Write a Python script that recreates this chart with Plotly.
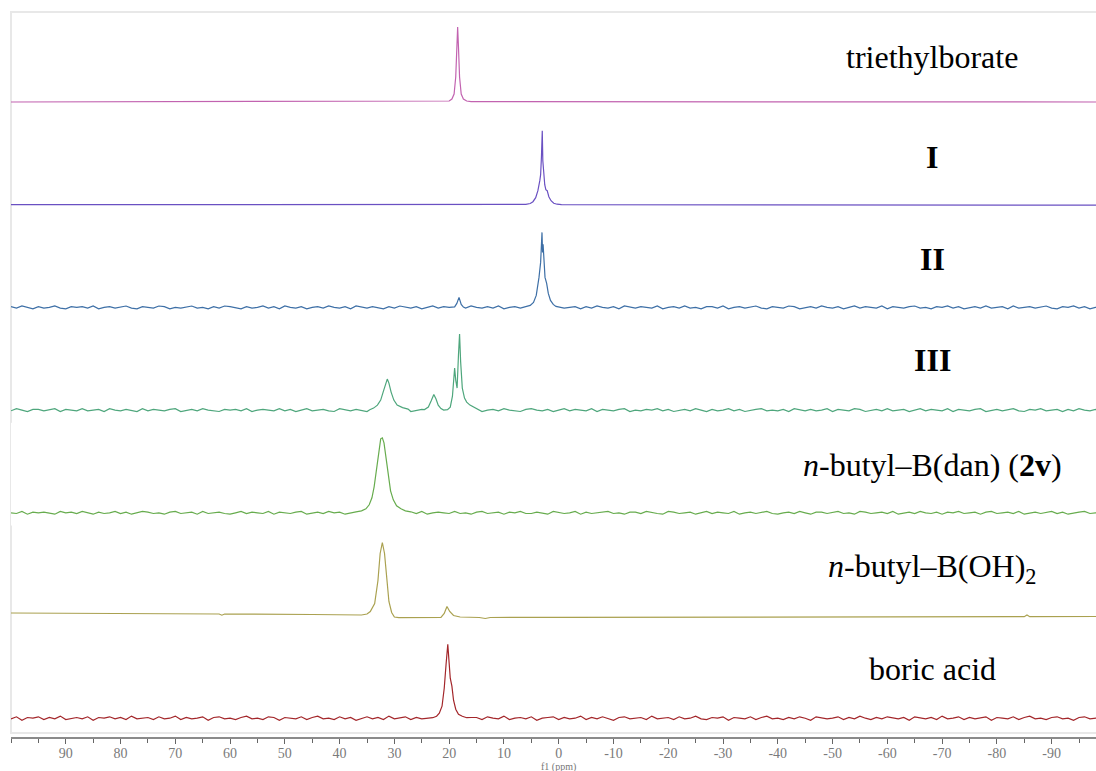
import numpy as np
import plotly.graph_objects as go

# ---------------- data (ppm, intensity above baseline) ----------------
names = ["triethylborate", "<b>I</b>", "<b>II</b>", "<b>III</b>",
         "<i>n</i>-butyl–B(dan) (<b>2v</b>)", "<i>n</i>-butyl–B(OH)<sub>2</sub>", "boric acid"]
colors = ["#C263B0", "#6A50C2", "#3D6FA6", "#4EA67C", "#67AC4E", "#AAA150", "#A3262A"]

tick_vals = [90, 80, 70, 60, 50, 40, 30, 20, 10, 0, -10, -20, -30, -40, -50, -60, -70, -80, -90]
tick_text = ["90", "80", "70", "60", "50", "40", "30", "20", "10", "0", "-10", "-20", "-30",
             "-40", "-50", "-60", "-70", "-80", "-90"]

# triethylborate
teb_ppm = [100, 21, 20, 19.5, 19.1, 18.8, 18.6, 18.45, 18.3, 18.1, 17.8, 17.4, 16.8, 16, -98.1]
teb_int = [0, 0.3, 1, 3, 8, 25, 55, 75, 55, 25, 8, 3, 1, 0.3, 0]

# I
i_ppm = [100, 6.0, 5.2, 4.7, 4.2, 3.8, 3.45, 3.3, 3.15, 3.0, 2.9, 2.75, 2.55, 2.35, 2.1, 1.8,
         1.4, 0.9, 0.3, -0.5, -98.1]
i_int = [0, 0.3, 1.2, 3, 7, 14, 24, 30, 48, 74, 44, 28, 20, 15, 14, 8, 4, 1.5, 0.5, 0, -0.5]

# II
ii_peak_ppm = [[19.0, 18.6, 18.2, 17.8, 17.4],
               [6.0, 5.2, 4.6, 4.1, 3.6, 3.3, 3.05, 2.95, 2.85, 2.7, 2.5, 2.2, 1.9, 1.5, 1.0, 0.5, -0.3]]
ii_peak_int = [[0.5, 4, 10, 3, 0.3],
               [0.5, 2, 5, 12, 30, 45, 75, 55, 63, 40, 30, 24, 14, 7, 3, 1, 0]]

# III
iii_peak_ppm = [[34.5, 33.8, 33.1, 32.5, 32.0, 31.6, 31.3, 31.0, 30.6, 30.1, 29.5, 28.5, 27.5],
                [24.5, 23.8, 23.3, 22.8, 22.4, 22.0, 21.5, 21.0],
                [20.3, 19.8, 19.4, 19.15, 19.0, 18.8, 18.55, 18.3, 18.1, 17.9, 17.6, 17.2, 16.8,
                 16.2, 15.5, 14.8]]
iii_peak_int = [[0.3, 2, 5, 10, 19, 27, 31, 27, 18, 10, 5, 2.5, 1],
                [0.5, 3, 9, 15.5, 11, 5, 1.5, 0],
                [0.5, 3, 14, 33, 42, 30, 22, 55, 76, 48, 22, 12, 8, 5, 3, 1]]

# 2v
v_peak_ppm = [[37, 36, 35.2, 34.6, 34.1, 33.7, 33.3, 32.9, 32.5, 32.2, 31.9, 31.5, 31.1, 30.7,
               30.2, 29.6, 28.8, 28, 27]]
v_peak_int = [[1, 2, 4, 8, 15, 26, 42, 62, 74, 75, 70, 54, 36, 22, 13, 7, 4, 2, 1]]

# n-butyl-B(OH)2
boh_ppm = [100, 80, 62, 61.5, 61, 45, 37, 36, 35, 34.4, 33.6, 33.0, 32.6, 32.2, 31.8, 31.4, 31.0,
           30.5, 30.0, 29.2, 25, 21.5, 20.9, 20.4, 19.9, 19.2, 18.0, 14.5, 13.4, 12.5, 0, -40,
           -85, -85.5, -86, -98.1]
boh_int = [2.5, 2.0, 1.5, 0.3, 1.5, 1.0, 0.5, 0.5, 1.5, 4, 12, 35, 62, 73, 62, 35, 14,
           3, -1.5, -2.2, -2, -1.8, 2, 9, 4, 0, -1.5, -2, -3, -2, -1.8, -1.5,
           -1.2, 0.5, -1.2, -1]

# boric acid
ba_peak_ppm = [[23.0, 22.3, 21.8, 21.3, 20.9, 20.55, 20.25, 20.0, 19.8, 19.5, 19.2, 18.8, 18.3,
                17.6, 16.8]]
ba_peak_int = [[0.5, 2, 5, 12, 30, 55, 74, 55, 40, 32, 18, 9, 4, 2, 0.5]]

# baseline noise, read at 1 ppm steps from 100 to -99 ppm (in noise units)
noise_ppm = list(range(100, -100, -1))
noise_II = [1,-1,2,0,-2,1,-1,0,2,-1, -2,1,0,1,-1,2,-2,0,1,-1,
            0,2,-1,-2,1,0,-1,2,1,-2, 0,-1,1,2,-1,0,-2,1,-1,2,
            1,0,-2,1,-1,0,2,-1,1,-2, 2,0,-1,1,-2,0,1,-1,2,0,
            -1,1,-2,2,0,-1,1,0,-2,1, -1,2,0,-1,1,-2,0,2,-1,1,
            0,-2,1,-1,2,0,-1,1,-1,2, -2,0,1,-1,0,2,-1,1,-2,0,
            2,-1,0,1,-2,1,-1,2,0,-1, 1,-2,2,0,-1,1,0,-1,2,-2,
            0,1,-1,2,-1,0,-2,1,1,-1, 2,-2,0,1,-1,0,2,-1,-2,1,
            0,-1,2,1,-2,0,1,-1,2,0, -1,1,-2,0,2,-1,1,0,-1,2,
            -2,1,0,-1,1,2,-1,0,-2,1, 0,2,-1,1,-2,0,1,-1,2,-1,
            0,1,-2,2,-1,0,1,-1,0,2, -1,-2,1,0,2,-1,1,-2,0,1]
noise_III = [-1,2,0,-2,1,1,-1,0,2,-2, 1,0,-1,2,-1,0,1,-2,2,0,
             -1,1,0,-2,2,-1,1,0,-1,1, 2,-2,0,1,-1,2,0,-1,-2,1,
             0,1,-1,2,-2,0,1,0,-1,2, -1,1,-2,0,2,-1,0,1,-1,-2,
             2,0,-1,1,0,-2,1,2,-1,0, 1,-1,2,-2,0,1,-1,0,2,-1,
             -2,1,0,2,-1,1,-2,0,1,-1, 2,0,-1,-2,1,2,0,-1,1,-2,
             0,2,-1,1,0,-1,2,-2,1,0, -1,1,2,-2,0,-1,1,0,2,-1,
             1,-2,0,1,-1,2,0,-2,1,-1, 0,2,-1,1,-2,0,1,2,-1,0,
             -1,1,-2,2,0,-1,1,-1,0,2, -2,1,0,-1,2,1,-2,0,1,-1,
             2,-1,0,1,-2,0,2,-1,1,0, -1,2,-2,1,0,-1,1,2,-2,0,
             1,-1,0,2,-1,-2,1,0,2,-1, 0,1,-2,1,-1,2,0,-1,1,-2]
noise_2v = [0,-1,2,-2,1,0,1,-1,-2,2, 0,1,-1,2,0,-2,1,-1,0,2,
            -1,1,-2,0,2,1,-1,0,-2,1, 2,-1,0,1,-2,2,-1,0,1,-1,
            -2,0,2,-1,1,0,-1,2,-2,1, 0,-1,1,2,-2,0,1,-1,2,0,
            1,-2,0,-1,2,1,-1,0,1,-2, 2,0,-1,1,-1,2,-2,0,1,0,
            -1,2,-1,0,-2,1,2,-1,0,1, -2,1,0,2,-1,-1,1,0,-2,2,
            1,-1,0,2,-2,1,-1,0,1,2, -1,0,-2,1,1,-1,2,0,-1,-2,
            2,1,-1,0,1,-2,0,2,-1,1, 0,-1,2,-2,0,1,-1,1,2,-1,
            -2,0,1,-1,2,0,-2,1,1,-1, 0,2,-1,0,-2,2,1,-1,0,1,
            -1,2,-2,0,1,-1,2,0,-1,1, -2,1,0,2,-1,0,1,-2,1,2,
            -1,0,1,-1,2,-2,0,1,-1,0, 2,-1,1,-2,0,1,2,-1,0,-1]
noise_boric = [-1,2,-3,1,0,2,-2,1,-1,3, -2,0,1,-1,2,-3,1,0,2,-1,
               1,-2,3,-1,0,1,-2,2,-1,0, 3,-2,1,-1,0,2,-3,1,2,-1,
               0,-2,1,3,-1,0,-2,2,1,-3, 1,0,-1,2,-2,1,3,-1,0,-2,
               2,-1,1,-3,0,2,-1,1,-2,3, -1,0,2,-2,1,-1,0,3,-2,1,
               -1,2,0,-3,1,1,-2,2,0,-1, 3,-2,0,1,-1,2,-3,0,1,2,
               -2,1,-1,0,3,-2,1,-1,2,0, -3,1,2,-1,0,1,-2,3,-1,0,
               1,-2,2,-1,0,3,-1,-2,1,0, 2,-3,1,0,-1,2,-2,1,3,-1,
               0,-2,1,-1,2,0,-3,2,1,-1, 0,2,-2,1,-1,3,0,-2,1,-1,
               2,0,-1,1,-3,2,0,-1,1,-2, 3,-1,0,2,-2,1,-1,0,2,-3,
               1,0,-1,2,-2,1,3,-1,0,-2, 1,2,-1,0,-3,1,2,-1,0,1]
NOISE_UNIT = 0.7   # px per noise unit (units of the y axes are px above baseline)


def assemble(noise, peaks_ppm, peaks_int):
    """Merge baseline noise points (outside the peak windows) with the peak points."""
    pts = []
    for p, v in zip(noise_ppm, noise):
        if not any(min(pp) <= p <= max(pp) for pp in peaks_ppm):
            pts.append((p, v * NOISE_UNIT))
    for pp, pv in zip(peaks_ppm, peaks_int):
        pts.extend(zip(pp, pv))
    pts.sort(key=lambda t: -t[0])
    return [t[0] for t in pts], [t[1] for t in pts]


spectra = [
    (teb_ppm, teb_int),
    (i_ppm, i_int),
    assemble(noise_II, ii_peak_ppm, ii_peak_int),
    assemble(noise_III, iii_peak_ppm, iii_peak_int),
    assemble(noise_2v, v_peak_ppm, v_peak_int),
    (boh_ppm, boh_int),
    assemble(noise_boric, ba_peak_ppm, ba_peak_int),
]

# ---------------- layout geometry (page pixels) ----------------
W, H = 1096, 771
TOP, BOT, LEFT = 12, 737, 11
PH = BOT - TOP
ROW = 102.7
BASE0 = 102
ABOVE, BELOW = 90, 12.7


def frac(ypx):
    return (BOT - ypx) / PH


fig = go.Figure()
layout_axes = {}
for i, ((x, y), col) in enumerate(zip(spectra, colors)):
    yb = BASE0 + ROW * i
    ax = "y" if i == 0 else f"y{i + 1}"
    key = "yaxis" if i == 0 else f"yaxis{i + 1}"
    fig.add_trace(go.Scatter(x=x, y=y, mode="lines", xaxis="x", yaxis=ax,
                             line=dict(color=col, width=1.2), showlegend=False,
                             hoverinfo="skip"))
    layout_axes[key] = dict(domain=[max(0, frac(yb + BELOW)), min(1, frac(yb - ABOVE))],
                            range=[-BELOW, ABOVE], visible=False, fixedrange=True,
                            anchor="x")

label_y = [57, 157, 259, 360, 465, 568, 669]
annotations = []
for name, ly in zip(names, label_y):
    annotations.append(dict(text=name, x=(932 - LEFT) / (W - LEFT), xref="paper",
                            y=frac(ly), yref="paper", showarrow=False,
                            xanchor="center", yanchor="middle",
                            font=dict(family="Liberation Serif", size=32, color="#000")))
annotations.append(dict(text="f1 (ppm)", x=0, xref="x", y=frac(767), yref="paper",
                        showarrow=False, xanchor="center", yanchor="middle",
                        font=dict(family="Liberation Serif", size=10, color="#777")))

fig.update_layout(
    width=W, height=H,
    margin=dict(l=LEFT, r=0, t=TOP, b=H - BOT, autoexpand=False),
    paper_bgcolor="white", plot_bgcolor="white",
    xaxis=dict(range=[100, -98.1], tickvals=tick_vals, ticktext=tick_text,
               showgrid=False, zeroline=False, showline=True, linecolor="#8a8a8a",
               linewidth=1.5, ticks="outside", ticklen=5, tickcolor="#666", tickwidth=1,
               tickfont=dict(family="Liberation Serif", size=14, color="#7a7a7a"),
               ticklabelstandoff=-2,
               minor=dict(dtick=5, tick0=0, ticks="outside", ticklen=4, tickcolor="#666"),
               anchor="free", position=0, fixedrange=True, automargin=False),
    annotations=annotations,
    shapes=[dict(type="rect", xref="paper", yref="paper", x0=0, x1=1.01,
                 y0=frac(733), y1=1, line=dict(color="#E8E8E8", width=2),
                 layer="below")],
    **layout_axes,
)

fig.write_html("out.html",
               config={"displayModeBar": False, "staticPlot": True},
               post_script="document.body.style.margin='0';"
                           "document.body.style.overflow='hidden';")
